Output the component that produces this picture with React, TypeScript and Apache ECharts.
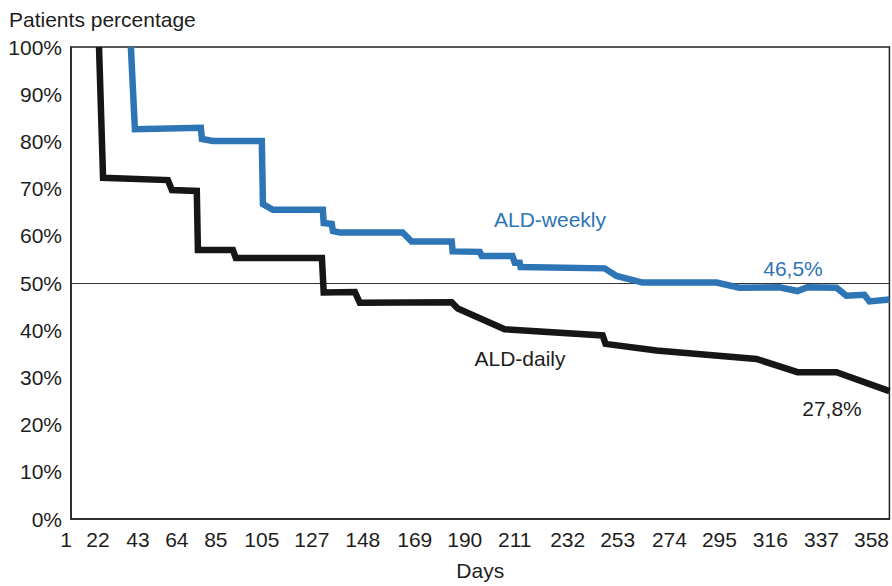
import React, { useEffect, useRef } from "react";
import * as echarts from "echarts";

// Axis positions (in the chart's day coordinate) where each day label sits
const dayTicks = [1, 13, 30.9, 48.2, 65.6, 86.1, 108.4, 131.1, 154.3, 176.6, 198.9, 222.5, 244.8, 267.9, 290.2, 312.9, 335.7, 358];
const dayLabels = ["1", "22", "43", "64", "85", "105", "127", "148", "169", "190", "211", "232", "253", "274", "295", "316", "337", "358"];
const percentTicks = [0, 10, 20, 30, 40, 50, 60, 70, 80, 90, 100];

// ALD-daily curve: [day position, % patients]
const dailyDays = [13.5, 15.3, 44.2, 46.0, 57.1, 57.6, 73.2, 74.5, 112.9, 113.7, 127.6, 129.8, 170.8, 173.5, 194.4, 238.1, 239.4, 262.1, 306.7, 325.0, 342.4, 366.0];
const dailyPct = [100, 72.3, 71.8, 69.7, 69.5, 57.0, 57.0, 55.3, 55.3, 48.0, 48.1, 45.8, 45.9, 44.6, 40.2, 38.9, 37.1, 35.7, 33.9, 31.1, 31.1, 27.1];

// ALD-weekly curve
const weeklyDays = [27.7, 29.5, 58.9, 59.4, 64.3, 86.1, 86.6, 91.0, 113.3, 113.7, 117.3, 117.8, 120.9, 148.9, 152.9, 170.8, 171.2, 183.3, 184.2, 197.9, 198.9, 201.1, 201.5, 239.0, 244.3, 255.9, 288.9, 299.1, 316.9, 325.0, 329.4, 342.4, 346.8, 354.8, 357.1, 366.0];
const weeklyPct = [100, 82.6, 82.9, 80.5, 80.1, 80.1, 66.7, 65.5, 65.5, 62.7, 62.5, 61.0, 60.7, 60.7, 58.8, 58.8, 56.7, 56.6, 55.7, 55.7, 54.3, 54.3, 53.4, 53.1, 51.5, 50.1, 50.1, 49.0, 49.1, 48.3, 49.1, 49.0, 47.3, 47.5, 46.1, 46.5];

const referenceLevel = 50;

const FONT = "'Liberation Sans', Arial, Helvetica, sans-serif";
const FS = 21;
const BLUE = "#2e75b6";
const BLACK = "#161616";
const TEXT = "#1e1e1e";

export default function App() {
  const ref = useRef<HTMLDivElement>(null);
  useEffect(() => {
    document.body.style.margin = "0";
    if (!ref.current) return;
    const chart = echarts.init(ref.current, undefined, { renderer: "svg" });
    const labelByTick = new Map<number, string>();
    dayTicks.forEach((t, i) => labelByTick.set(t, dayLabels[i]));
    chart.setOption({
      animation: false,
      backgroundColor: "#ffffff",
      textStyle: { fontFamily: FONT },
      title: {
        text: "Patients percentage",
        left: 4,
        top: 4,
        textStyle: { fontSize: FS, fontWeight: "normal", color: TEXT, fontFamily: FONT },
      },
      grid: {
        left: 71,
        right: 2,
        top: 47,
        bottom: 63,
        show: true,
        borderColor: "#222",
        borderWidth: 1.5,
        backgroundColor: "transparent",
      },
      xAxis: {
        type: "value",
        min: 1,
        max: 366,
        name: "Days",
        nameLocation: "middle",
        nameGap: 41,
        nameTextStyle: { fontSize: FS, color: TEXT, fontFamily: FONT },
        axisLine: { show: true, lineStyle: { color: "#222", width: 1.5 } },
        axisTick: { show: false },
        splitLine: { show: false },
        axisLabel: {
          customValues: dayTicks,
          fontSize: FS,
          color: TEXT,
          margin: 10,
          fontFamily: FONT,
          formatter: (v: number) => (v === dayTicks[0] ? `{first|${labelByTick.get(v)}}` : labelByTick.get(v) ?? ""),
          rich: {
            first: { fontSize: FS, color: TEXT, fontFamily: FONT, padding: [0, 10, 0, 0] },
          },
        },
      },
      yAxis: {
        type: "value",
        min: 0,
        max: 100,
        interval: 10,
        axisLine: { show: true, lineStyle: { color: "#222", width: 1.5 } },
        axisTick: { show: false },
        splitLine: { show: false },
        axisLabel: {
          customValues: percentTicks,
          fontSize: FS,
          color: TEXT,
          margin: 9,
          fontFamily: FONT,
          formatter: (v: number) => `${v}%`,
        },
      },
      series: [
        {
          name: "ALD-daily",
          type: "line",
          data: dailyDays.map((d, i) => [d, dailyPct[i]]),
          showSymbol: false,
          lineStyle: { color: BLACK, width: 6.5, join: "miter" },
          itemStyle: { color: BLACK },
          z: 3,
          markLine: {
            silent: true,
            symbol: "none",
            label: { show: false },
            lineStyle: { color: "#333", width: 1.2, type: "solid" },
            data: [{ yAxis: referenceLevel }],
            z: 1,
          },
        },
        {
          name: "ALD-weekly",
          type: "line",
          data: weeklyDays.map((d, i) => [d, weeklyPct[i]]),
          showSymbol: false,
          lineStyle: { color: BLUE, width: 6.5, join: "miter" },
          itemStyle: { color: BLUE },
          z: 4,
        },
      ],
      graphic: [
        { type: "text", x: 550, y: 219, style: { text: "ALD-weekly", fill: BLUE, fontSize: FS, fontFamily: FONT, textAlign: "center", textVerticalAlign: "middle" } },
        { type: "text", x: 520, y: 358, style: { text: "ALD-daily", fill: TEXT, fontSize: FS, fontFamily: FONT, textAlign: "center", textVerticalAlign: "middle" } },
        { type: "text", x: 793, y: 268, style: { text: "46,5%", fill: BLUE, fontSize: FS, fontFamily: FONT, textAlign: "center", textVerticalAlign: "middle" } },
        { type: "text", x: 832, y: 408, style: { text: "27,8%", fill: TEXT, fontSize: FS, fontFamily: FONT, textAlign: "center", textVerticalAlign: "middle" } },
      ],
    });
    return () => chart.dispose();
  }, []);
  return <div ref={ref} style={{ position: "absolute", left: 0, top: 0, width: 892, height: 586 }} />;
}
